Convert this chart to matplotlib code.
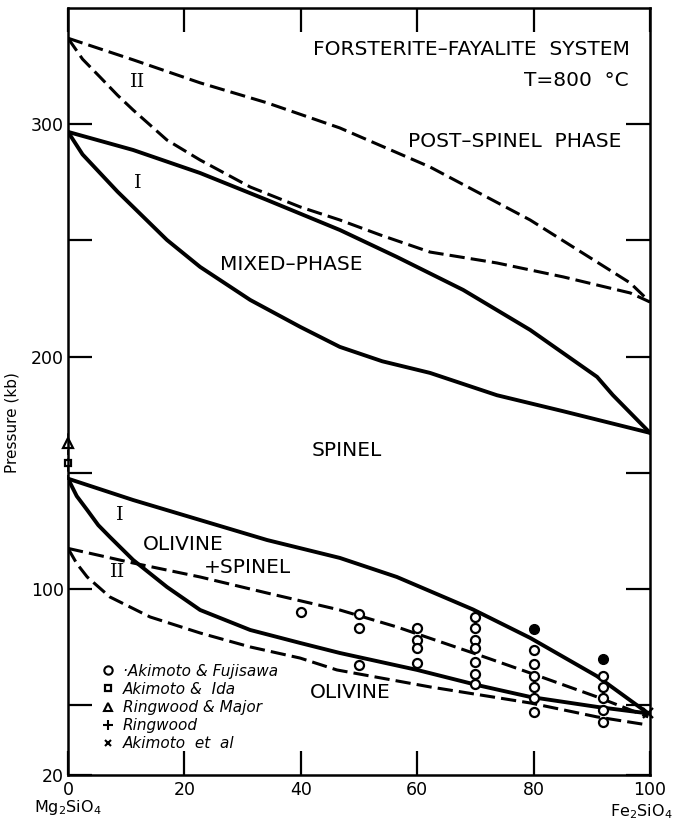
import numpy as np
import matplotlib.pyplot as plt
from matplotlib.lines import Line2D

# Phase boundaries (mole % Fe2SiO4, pressure in kb)
# upper pair, model II (dashed)
up2_top_x = [0, 11.2, 22.7, 34.2, 46.7, 62.2, 79.4, 96.6, 100]
up2_top_y = [337, 327.7, 317.8, 309.2, 298.4, 281.6, 258.8, 231.7, 223.5]
up2_bot_x = [0, 2.5, 5.5, 8.5, 11.2, 17.0, 22.7, 31.3, 39.9, 46.7, 53.6, 62.2, 73.7, 85.1, 96.6, 100]
up2_bot_y = [337, 328, 320.3, 312.5, 306.1, 293.2, 284.6, 273.0, 264.4, 258.8, 252.4, 245.0, 240.3, 234.3, 227.4, 223.5]
# upper pair, model I (solid)
up1_top_x = [0, 11.2, 22.7, 34.2, 46.7, 56.5, 67.9, 79.4, 90.9, 93.6, 100]
up1_top_y = [296.7, 288.9, 279.0, 267.4, 254.5, 242.9, 228.7, 211.5, 191.3, 183.5, 167.2]
up1_bot_x = [0, 2.5, 5.5, 8.5, 11.2, 17.0, 22.7, 31.3, 39.9, 46.7, 54.0, 62.2, 73.7, 85.1, 100]
up1_bot_y = [296.7, 287, 279.0, 271, 264.4, 250.2, 238.6, 224.4, 212.8, 204.2, 198.0, 193.0, 183.4, 176.5, 167.2]
# lower pair, model I (solid)
lo1_top_x = [0, 11.2, 22.7, 34.2, 46.7, 56.5, 69.6, 79.4, 90.9, 99.7]
lo1_top_y = [147.5, 138.3, 129.7, 121.1, 113.4, 105.2, 91.2, 79.0, 62.5, 46.5]
lo1_bot_x = [0, 1.5, 3.3, 5.2, 7.2, 11.2, 17.0, 22.7, 31.3, 39.9, 46.7, 60.0, 70.3, 79.4, 90.9, 99.7]
lo1_bot_y = [147.5, 140, 134.0, 127.5, 122.4, 112.5, 100.9, 91.0, 82.4, 76.8, 72.5, 65.2, 58.7, 53.6, 49.3, 46.5]
# lower pair, model II (dashed)
lo2_top_x = [0, 11.2, 22.7, 34.2, 46.7, 56.5, 69.6, 79.4, 90.9, 99.7]
lo2_top_y = [117.5, 111.2, 105.2, 98.3, 91.0, 83.7, 72.5, 63.9, 53.6, 45.0]
lo2_bot_x = [0, 1.5, 3.3, 7.2, 14.1, 22.7, 31.3, 39.9, 46.2, 62.2, 79.4, 90.9, 99.7]
lo2_bot_y = [117.5, 111, 105.2, 96.6, 88.0, 81.1, 75.1, 70.3, 65.2, 57.9, 51.0, 45.0, 41.5]

# experimental points
fuji_x = [40, 50, 50, 50, 60, 60, 60, 60, 70, 70, 70, 70, 70, 70, 70,
          80, 80, 80, 80, 80, 80, 92, 92, 92, 92, 92]
fuji_y = [90.1, 89.3, 83.3, 67.3, 83.3, 78.1, 74.6, 68.2, 88.0, 83.3, 78.1, 74.6, 68.6, 63.5, 59.2,
          73.8, 67.8, 62.6, 57.9, 53.1, 47.1, 62.6, 57.9, 53.1, 48.0, 42.8]
fuji_fill_x = [80, 92]
fuji_fill_y = [82.8, 69.9]
ida_x, ida_y = [0], [154.3]
rm_x, rm_y = [0], [162.9]
ring_x, ring_y = [0, 0], [147, 168]
akim_x, akim_y = [99.6], [46.7]

fig = plt.figure(figsize=(6.75, 8.21), dpi=100)
ax = fig.add_axes([68 / 675, 46 / 821, 582 / 675, 767 / 821])

solid = dict(color='black', lw=2.8, solid_capstyle='round')
dash = dict(color='black', lw=2.2, dashes=(5, 2))
ax.plot(up2_top_x, up2_top_y, **dash)
ax.plot(up2_bot_x, up2_bot_y, **dash)
ax.plot(up1_top_x, up1_top_y, **solid)
ax.plot(up1_bot_x, up1_bot_y, **solid)
ax.plot(lo1_top_x, lo1_top_y, **solid)
ax.plot(lo1_bot_x, lo1_bot_y, **solid)
ax.plot(lo2_top_x, lo2_top_y, **dash)
ax.plot(lo2_bot_x, lo2_bot_y, **dash)

ax.plot(ring_x, ring_y, color='black', lw=1.2, dashes=(3, 2), clip_on=False)
ax.plot(fuji_x, fuji_y, 'o', ms=6.5, mfc='white', mec='black', mew=1.6, clip_on=False)
ax.plot(fuji_fill_x, fuji_fill_y, 'o', ms=7, color='black', clip_on=False)
ax.plot(ida_x, ida_y, 's', ms=5, mfc='white', mec='black', mew=1.6, clip_on=False)
ax.plot(rm_x, rm_y, '^', ms=7, mfc='white', mec='black', mew=1.6, clip_on=False)
ax.plot(akim_x, akim_y, 'x', ms=7, color='black', mew=1.6, clip_on=False)

ax.set_xlim(0, 100)
ax.set_ylim(20, 350)
ax.set_xticks([0, 20, 40, 60, 80, 100])
ax.set_yticks([20, 50, 100, 150, 200, 250, 300])
ax.set_yticklabels(['20', '', '100', '', '200', '', '300'])
ax.tick_params(direction='in', length=17, width=1.6, labelsize=12.5,
               top=True, right=True, pad=4)
ax.tick_params(axis='y', pad=3)
for s in ax.spines.values():
    s.set_linewidth(1.8)

ax.set_ylabel('Pressure (kb)', fontsize=11)
ax.yaxis.set_label_coords(-0.083, 0.46)

ax.text(0, -0.043, 'Mg$_2$SiO$_4$', transform=ax.transAxes, ha='center', va='center', fontsize=11.5)
ax.text(0.985, -0.048, 'Fe$_2$SiO$_4$', transform=ax.transAxes, ha='center', va='center', fontsize=11.5)

lab = dict(ha='center', va='center', fontsize=14.5)
ax.text(69.4, 332, 'FORSTERITE\u2013FAYALITE  SYSTEM', **lab)
ax.text(87.3, 319, 'T=800  \u00b0C', **lab)
ax.text(76.8, 292.4, 'POST\u2013SPINEL  PHASE', **lab)
ax.text(38.3, 239.5, 'MIXED\u2013PHASE', **lab)
ax.text(47.9, 159.8, 'SPINEL', **lab)
ax.text(19.8, 119.0, 'OLIVINE', **lab)
ax.text(30.9, 109.1, '+SPINEL', **lab)
ax.text(48.5, 55.3, 'OLIVINE', **lab)
rom = dict(ha='center', va='center', fontsize=14, family='DejaVu Serif')
ax.text(11.9, 318.2, 'II', **rom)
ax.text(11.9, 274.7, 'I', **rom)
ax.text(8.9, 131.9, 'I', **rom)
ax.text(8.6, 107.3, 'II', **rom)

handles = [
    Line2D([], [], ls='none', marker='o', ms=6, mfc='white', mec='black', mew=1.5),
    Line2D([], [], ls='none', marker='s', ms=5, mfc='white', mec='black', mew=1.6),
    Line2D([], [], ls='none', marker='^', ms=6, mfc='white', mec='black', mew=1.5),
    Line2D([], [], ls='none', marker='+', ms=7, color='black', mew=1.5),
    Line2D([], [], ls='none', marker='x', ms=5, color='black', mew=1.5),
]
names = ['\u00b7Akimoto & Fujisawa', 'Akimoto &  Ida', 'Ringwood & Major', 'Ringwood', 'Akimoto  et  al']
ax.legend(handles, names, loc='upper left', bbox_to_anchor=(0.043, 0.155), frameon=False,
          borderpad=0, handlelength=1.0, handletextpad=0.45, labelspacing=0.2,
          prop=dict(size=11, style='italic'))

fig.savefig('out.png', dpi=100)
